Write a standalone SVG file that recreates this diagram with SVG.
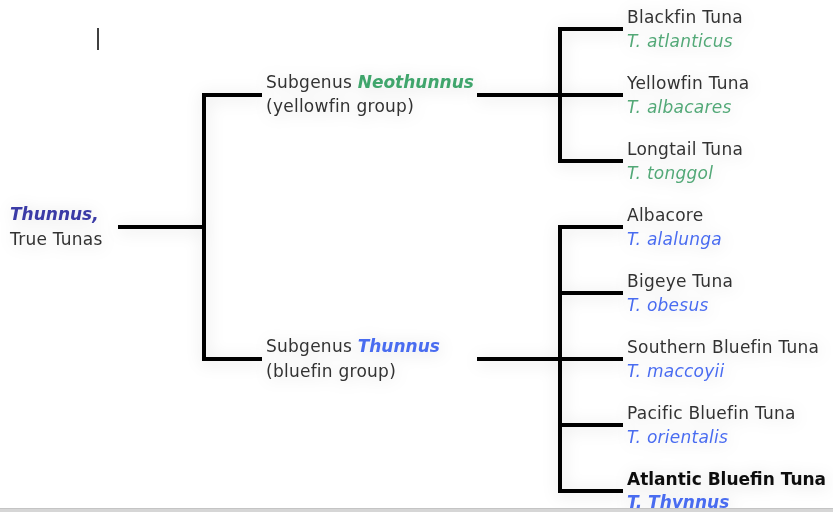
<svg xmlns="http://www.w3.org/2000/svg" width="833" height="512" viewBox="0 0 833 512">
<style>
  text { font-family: "DejaVu Sans", Verdana, sans-serif; font-size: 17px; fill: #333333; letter-spacing: 0.25px; }
  .it { font-style: italic; }
  .b { font-weight: bold; letter-spacing: 0; }
  .g { fill: #3fa56c; }
  .gs { fill: #52a877; }
  .bl { fill: #4a6cf0; }
  .root { fill: #3a3aa6; }
  .dark { fill: #111111; }
  .edge { stroke: #000000; stroke-width: 4; fill: none; stroke-linecap: butt; stroke-linejoin: miter; }
</style>
<defs>
  <filter id="halo" x="-10%" y="-10%" width="120%" height="120%">
    <feDropShadow dx="1" dy="2" stdDeviation="8" flood-color="#000000" flood-opacity="0.14"/>
  </filter>
</defs>
<rect x="0" y="0" width="833" height="512" fill="#ffffff"/>
<line x1="98" y1="28" x2="98" y2="50" stroke="#000000" stroke-width="1.5"/>

<g id="connectors" class="edge" filter="url(#halo)">
  <path d="M118 227 H204"/>
  <path d="M262 95 H204 V359 H262"/>
  <path d="M477 95 H623"/>
  <path d="M623 29 H560 V161 H623"/>
  <path d="M477 359 H623"/>
  <path d="M623 227 H560 V491 H623"/>
  <path d="M560 293 H623"/>
  <path d="M560 425 H623"/>
</g>

<g filter="url(#halo)">
<g id="root">
  <text x="10" y="220" class="it b root">Thunnus,</text>
  <text x="10" y="245">True Tunas</text>
</g>
<g id="neothunnus">
  <text x="266" y="88">Subgenus <tspan class="it b g">Neothunnus</tspan></text>
  <text x="266" y="112">(yellowfin group)</text>
</g>
<g id="thunnus">
  <text x="266" y="352">Subgenus <tspan class="it b bl">Thunnus</tspan></text>
  <text x="266" y="377">(bluefin group)</text>
</g>
<g id="blackfin">
  <text x="627" y="23">Blackfin Tuna</text>
  <text x="627" y="47" class="it gs">T. atlanticus</text>
</g>
<g id="yellowfin">
  <text x="627" y="89">Yellowfin Tuna</text>
  <text x="627" y="113" class="it gs">T. albacares</text>
</g>
<g id="longtail">
  <text x="627" y="155">Longtail Tuna</text>
  <text x="627" y="179" class="it gs">T. tonggol</text>
</g>
<g id="albacore">
  <text x="627" y="221">Albacore</text>
  <text x="627" y="245" class="it bl">T. alalunga</text>
</g>
<g id="bigeye">
  <text x="627" y="287">Bigeye Tuna</text>
  <text x="627" y="311" class="it bl">T. obesus</text>
</g>
<g id="southern">
  <text x="627" y="353">Southern Bluefin Tuna</text>
  <text x="627" y="377" class="it bl">T. maccoyii</text>
</g>
<g id="pacific">
  <text x="627" y="419">Pacific Bluefin Tuna</text>
  <text x="627" y="443" class="it bl">T. orientalis</text>
</g>
<g id="atlantic">
  <text x="627" y="485" class="b dark">Atlantic Bluefin Tuna</text>
  <text x="627" y="508" class="it b bl">T. Thynnus</text>
</g>
</g>

<rect x="0" y="508" width="833" height="4" fill="#d6d6d6"/>
<line x1="0" y1="508.5" x2="833" y2="508.5" stroke="#c4c4c4" stroke-width="1"/>
</svg>
